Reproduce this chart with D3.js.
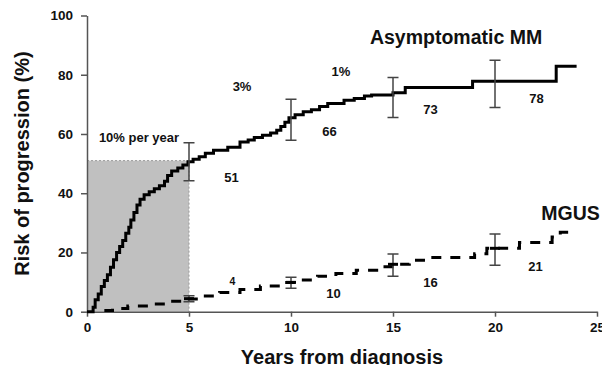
<!DOCTYPE html>
<html>
<head>
<meta charset="utf-8">
<script src="https://cdn.jsdelivr.net/npm/d3@7"></script>
<style>
  html, body { margin: 0; padding: 0; background: #fff; }
  svg { display: block; font-family: "Liberation Sans", Arial, sans-serif; font-weight: bold; }
</style>
</head>
<body>
<svg id="chart" width="602" height="365"></svg>
<script>
// Kaplan-Meier style step points [years, risk %]
const mmSteps = [
  [0, 0], [0.3, 1.5], [0.4, 4], [0.55, 6], [0.7, 8.5], [0.85, 10.5], [1.0, 12.5],
  [1.15, 15], [1.3, 17.5], [1.45, 20], [1.6, 22], [1.75, 24], [1.9, 26.5],
  [2.05, 28.5], [2.15, 31], [2.3, 33.5], [2.45, 36], [2.6, 38], [2.8, 39.5],
  [3.05, 40.5], [3.3, 41.5], [3.55, 42.5], [3.8, 44], [3.95, 46], [4.15, 47.5],
  [4.45, 48.5], [4.7, 49.5], [4.95, 50.6], [5.2, 51.5], [5.5, 52.3], [5.8, 53.5],
  [6.2, 54.5], [6.9, 55.5], [7.5, 57.3], [7.9, 58], [8.2, 58.8], [8.6, 59.6],
  [9.0, 60.3], [9.3, 61.3], [9.5, 62.5], [9.7, 64], [9.9, 65.5], [10.2, 66.5],
  [10.6, 67.5], [11.0, 68.2], [11.4, 69.3], [11.8, 70.3], [12.6, 71.4], [13.1, 72],
  [13.6, 72.8], [13.95, 73.2], [15.0, 73.9], [15.6, 75.7], [18.9, 77.8],
  [23.0, 82.9], [24.0, 82.9]
];
const mgusSteps = [
  [0.85, 0.4], [1.25, 1.1], [2.0, 1.9], [3.0, 2.6], [4.0, 3.5], [4.7, 4.3],
  [5.6, 5.3], [6.5, 6.5], [7.5, 7.5], [8.5, 8.7], [9.5, 9.9], [10.4, 10.7],
  [11.3, 12], [12.2, 12.9], [13.2, 14], [14.2, 15.2], [15.2, 16], [15.8, 17.4],
  [16.7, 18.3], [19.0, 19.6], [19.6, 21.4], [21.2, 23.4], [22.8, 25.2],
  [23.2, 26.8], [24.0, 26.8]
];

// confidence intervals at 5-year marks [year, low, high, centre]
const mmErrors = [[5, 44.2, 57, 51], [10, 57.9, 71.7, 66], [15, 65.6, 79.1, 73], [20, 68.9, 84.9, 78]];
const mgusErrors = [[5, 3.4, 5.4, 4.4], [10, 7.9, 11.6, 9.9], [15, 12, 19.5, 16], [20, 15.7, 26.2, 21.4]];

const shadedBox = [0, 5, 51]; // x from, x to, height (%)

const xTicks = [0, 5, 10, 15, 20, 25];
const yTicks = [0, 20, 40, 60, 80, 100];

// annotations: text, x (years), y (%)
const notes = [
  ['10% per year', 2.55, 59], ['3%', 7.6, 76.1], ['1%', 12.45, 81.2],
  ['51', 7.08, 45.4], ['66', 11.89, 60.9], ['73', 16.84, 68.4], ['78', 22.03, 72.1],
  ['10', 12.08, 6.3], ['16', 16.84, 10.0], ['21', 21.99, 15.4]
];
const smallNotes = [['4', 7.13, 10.4]];
const seriesNames = [['Asymptomatic MM', 18.09, 92.7], ['MGUS', 23.7, 33.3]];

const svg = d3.select('#chart');
const x = d3.scaleLinear().domain([0, 25]).range([87, 597]);
const y = d3.scaleLinear().domain([0, 100]).range([311.7, 15.5]);

// shaded first 5 years
svg.append('rect')
  .attr('x', x(shadedBox[0]))
  .attr('y', y(shadedBox[2]))
  .attr('width', x(shadedBox[1]) - x(shadedBox[0]))
  .attr('height', y(0) - y(shadedBox[2]))
  .attr('fill', '#c0c0c0');
svg.append('path')
  .attr('d', `M${x(shadedBox[0])},${y(shadedBox[2])}H${x(shadedBox[1])}V${y(0)}`)
  .attr('fill', 'none')
  .attr('stroke', '#9a9a9a')
  .attr('stroke-width', 1)
  .attr('stroke-dasharray', '2,2');

// axes
const xAxis = svg.append('g')
  .attr('transform', `translate(0,${y(0)})`)
  .call(d3.axisBottom(x).tickValues(xTicks).tickSize(5).tickPadding(6).tickSizeOuter(0));
const yAxis = svg.append('g')
  .attr('transform', `translate(${x(0)},0)`)
  .call(d3.axisLeft(y).tickValues(yTicks).tickSize(6).tickPadding(8).tickSizeOuter(0));
[xAxis, yAxis].forEach(a => {
  a.select('.domain').attr('stroke', '#555').attr('stroke-width', 1.5);
  a.selectAll('.tick line').attr('stroke', '#555').attr('stroke-width', 1.5);
  a.selectAll('.tick text')
    .attr('fill', '#111')
    .attr('font-size', 13.5)
    .attr('font-weight', 'bold')
    .attr('font-family', '"Liberation Sans", Arial, sans-serif');
});

// axis titles
svg.append('text')
  .attr('x', 342).attr('y', 364)
  .attr('text-anchor', 'middle')
  .attr('font-size', 20)
  .attr('fill', '#111')
  .text('Years from diagnosis');
svg.append('text')
  .attr('transform', `translate(29,${(y(0) + y(100)) / 2}) rotate(-90)`)
  .attr('text-anchor', 'middle')
  .attr('font-size', 20)
  .attr('fill', '#111')
  .text('Risk of progression (%)');

const line = d3.line()
  .x(d => x(d[0]))
  .y(d => y(d[1]))
  .curve(d3.curveStepAfter);

// MGUS dashed
svg.append('path')
  .datum(mgusSteps)
  .attr('d', line)
  .attr('fill', 'none')
  .attr('stroke', '#000')
  .attr('stroke-width', 3)
  .attr('stroke-dasharray', '10,9');

// MM solid
svg.append('path')
  .datum(mmSteps)
  .attr('d', line)
  .attr('fill', 'none')
  .attr('stroke', '#000')
  .attr('stroke-width', 3)
  .attr('stroke-linejoin', 'miter');

// error bars
function drawErrors(data) {
  const g = svg.append('g').attr('stroke', '#444').attr('stroke-width', 1.5).attr('fill', 'none');
  data.forEach(d => {
    const cx = x(d[0]);
    g.append('path')
      .attr('d', `M${cx},${y(d[1])}V${y(d[2])}M${cx - 5.5},${y(d[1])}H${cx + 5.5}M${cx - 5.5},${y(d[2])}H${cx + 5.5}`);
  });
}
drawErrors(mmErrors);
drawErrors(mgusErrors);

// centre marks for MGUS
svg.append('g').selectAll('line')
  .data(mgusErrors)
  .join('line')
  .attr('x1', d => x(d[0]) - 5).attr('x2', d => x(d[0]) + 5)
  .attr('y1', d => y(d[3])).attr('y2', d => y(d[3]))
  .attr('stroke', '#000').attr('stroke-width', 3);

// annotations
svg.append('g').selectAll('text')
  .data(notes)
  .join('text')
  .attr('x', d => x(d[1])).attr('y', d => y(d[2]))
  .attr('dy', '0.36em')
  .attr('text-anchor', 'middle')
  .attr('font-size', 13)
  .attr('fill', '#111')
  .text(d => d[0]);
svg.append('g').selectAll('text')
  .data(smallNotes)
  .join('text')
  .attr('x', d => x(d[1])).attr('y', d => y(d[2]))
  .attr('dy', '0.36em')
  .attr('text-anchor', 'middle')
  .attr('font-size', 10.5)
  .attr('fill', '#111')
  .text(d => d[0]);
svg.append('g').selectAll('text')
  .data(seriesNames)
  .join('text')
  .attr('x', d => x(d[1])).attr('y', d => y(d[2]))
  .attr('dy', '0.36em')
  .attr('text-anchor', 'middle')
  .attr('font-size', 19.5)
  .attr('fill', '#111')
  .text(d => d[0]);
</script>
</body>
</html>
